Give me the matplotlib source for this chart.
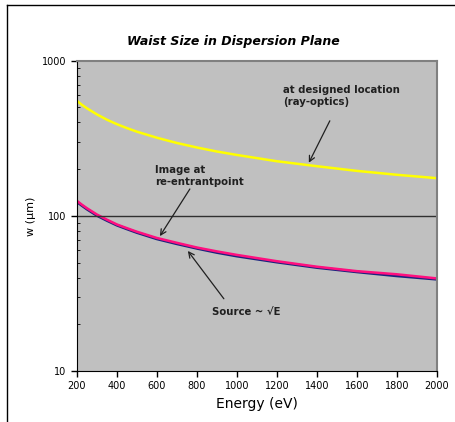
import matplotlib.pyplot as plt
from matplotlib.lines import Line2D

energy = [200, 225, 250, 300, 350, 400, 450, 500, 600, 700, 800, 900, 1000, 1200, 1400, 1600, 1800, 2000]
designed = [552, 520, 494, 451, 417, 390, 368, 349, 319, 295, 276, 260, 247, 225, 209, 195, 184, 175]  # ray-optics
image = [125, 118, 112, 102, 94.5, 88, 83.3, 79, 72, 67, 62.5, 59, 56, 51, 47, 44, 42, 39.5]  # re-entrant point
source = [123, 116.5, 110.5, 100.5, 93.3, 87, 82.3, 78, 71, 66, 61.7, 58, 55, 50.3, 46.4, 43.5, 41, 39]
x_ticks = [200, 400, 600, 800, 1000, 1200, 1400, 1600, 1800, 2000]

fig = plt.figure(figsize=(4.55, 4.22), dpi=100)
ax = fig.add_axes([0.169, 0.121, 0.791, 0.735])
ax.set_facecolor("#c0c0c0")

ax.plot(energy, source, color="#1a237e", lw=2.0)
ax.plot(energy, image, color="#ff0f7f", lw=1.8)
ax.plot(energy, designed, color="#ffff00", lw=1.8)
ax.axhline(100, color="#303030", lw=1.0)

ax.set_yscale("log")
ax.set_xlim(200, 2000)
ax.set_ylim(10, 1000)
ax.set_xticks(x_ticks)
ax.set_yticks([10, 100, 1000])
ax.set_yticklabels(["10", "100", "1000"])
ax.tick_params(labelsize=7, length=4, width=1, direction="out")
ax.tick_params(axis="y", which="minor", length=2, direction="in")

for s in ["top", "right"]:
    ax.spines[s].set_color("#808080")
    ax.spines[s].set_linewidth(1.5)
for s in ["left", "bottom"]:
    ax.spines[s].set_color("black")

ax.set_xlabel("Energy (eV)", fontsize=10)
ax.set_ylabel("w (µm)", fontsize=8)
fig.text(0.514, 0.902, "Waist Size in Dispersion Plane", ha="center", va="center",
         fontsize=9, fontweight="bold", fontstyle="italic")

txt = dict(fontsize=7.3, fontweight="bold", color="#202020")
arrow = dict(arrowstyle="->", color="#202020", lw=0.9, shrinkA=0, shrinkB=0)

ax.text(1230, 505, "at designed location\n(ray-optics)", ha="left", va="bottom", **txt)
ax.annotate("", xy=(1360, 220), xytext=(1465, 410), arrowprops=arrow)

ax.text(590, 154, "Image at\nre-entrantpoint", ha="left", va="bottom", **txt)
ax.annotate("", xy=(615, 74), xytext=(765, 149), arrowprops=arrow)

ax.text(1045, 26, "Source ~ \u221aE", ha="center", va="top", **txt)
ax.annotate("", xy=(755, 59.4), xytext=(935, 29.2), arrowprops=arrow)

# outer frame lines (top and left)
fig.add_artist(Line2D([7 / 455, 1], [1 - 5 / 422, 1 - 5 / 422], color="black", lw=1))
fig.add_artist(Line2D([7 / 455, 7 / 455], [0, 1 - 5 / 422], color="black", lw=1))

fig.savefig("out.png", dpi=100)
